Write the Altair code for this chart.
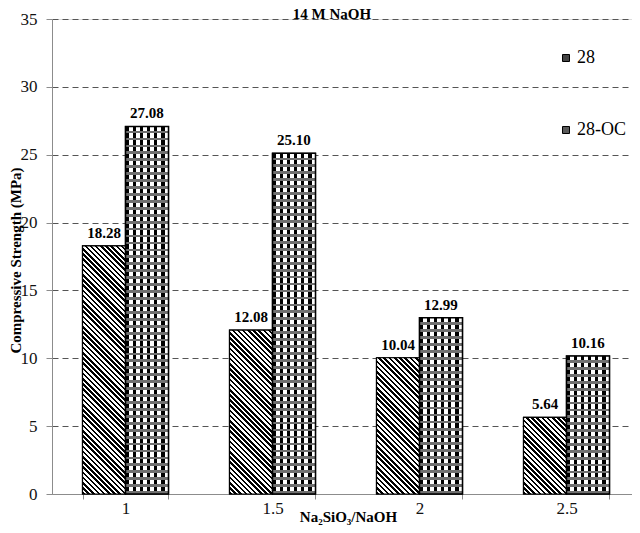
import altair as alt
import pandas as pd

# ---- data ----
ratios = ["1", "1.5", "2", "2.5"]
strength_28 = [18.28, 12.08, 10.04, 5.64]
strength_28oc = [27.08, 25.10, 12.99, 10.16]
series = ["28", "28-OC"]
y_ticks = [0, 5, 10, 15, 20, 25, 30, 35]

rows = []
for r, a, b in zip(ratios, strength_28, strength_28oc):
    rows.append({"ratio": r, "series": series[0], "value": a})
    rows.append({"ratio": r, "series": series[1], "value": b})
df = pd.DataFrame(rows)

# ---- layout / style ----
FONT = "Liberation Serif"
PLOT_W = 580
X_RANGE = 588
PLOT_H = 475
Y_MAX = 35
PAD_INNER = 0.415
EPS = 0.000001

step = X_RANGE / len(ratios)
bar_w = step * (1 - PAD_INNER) / 2


def px_h(v):
    return v / Y_MAX * PLOT_H


def stripes(n, c1, frac, c2):
    stops = []
    for i in range(n):
        a = round(i / n, 5)
        m = round((i + frac) / n, 5)
        b = round((i + 1) / n, 5)
        stops += [
            {"offset": a, "color": c1},
            {"offset": m, "color": c1},
            {"offset": m, "color": c2},
            {"offset": b, "color": c2},
        ]
    return stops


def diag_grad(v):
    w = bar_w
    h = px_h(v)
    k = (w + h) / (w * w + h * h)
    n = max(1, round((w + h) / 5.2))
    return {
        "gradient": "linear",
        "x1": EPS, "y1": 1,
        "x2": round(w * k, 6), "y2": round(1 - h * k, 6),
        "stops": stripes(n, "black", 0.5, "white"),
    }


def hband_grad(v):
    h = px_h(v)
    n = max(1, round(h / 7.0))
    return {
        "gradient": "linear",
        "x1": EPS, "y1": EPS, "x2": EPS, "y2": 1,
        "stops": stripes(n, "rgba(255,255,255,0)", 0.6, "#707070"),
    }


vgrad = {
    "gradient": "linear",
    "x1": EPS, "y1": EPS, "x2": 1, "y2": EPS,
    "stops": stripes(6, "black", 0.45, "white"),
}


def fill_by_ratio(vals, fn):
    conds = [{"test": f"datum.ratio === '{r}'", "value": fn(v)} for r, v in zip(ratios, vals)]
    return alt.FillValue(condition=conds, value="white")


x_enc = alt.X(
    "ratio:N", sort=ratios,
    scale=alt.Scale(range=[0, X_RANGE], paddingInner=PAD_INNER, paddingOuter=PAD_INNER / 2),
    axis=alt.Axis(
        title="Na₂SiO₃/NaOH", labelAngle=0, tickBand="extent", tickSize=5,
        tickColor="#8c8c8c", domainColor="#8c8c8c", labelFont=FONT, labelFontSize=17,
        labelColor="#111", labelPadding=1, titleFont=FONT, titleFontSize=15,
        titleFontWeight="bold", titleColor="#000", titleX=296, titleY=27,
        titleBaseline="alphabetic",
    ),
)
xo_enc = alt.XOffset("series:N", sort=series,
                     scale=alt.Scale(domain=series, paddingInner=0, paddingOuter=0))
y_enc = alt.Y(
    "value:Q", scale=alt.Scale(domain=[0, Y_MAX], nice=False),
    axis=alt.Axis(
        title="Compressive Strength (MPa)", values=y_ticks, grid=True, gridDash=[6, 4],
        gridColor="#555", gridWidth=1, tickSize=6, tickColor="#8c8c8c",
        domainColor="#8c8c8c", labelFont=FONT, labelFontSize=17, labelColor="#111",
        labelPadding=9, titleFont=FONT, titleFontSize=15, titleFontWeight="bold",
        titleColor="#000", titleX=-37, titleY=241, titleBaseline="middle",
    ),
)

base = alt.Chart(df)

legend_bars = base.mark_bar(stroke="black", strokeWidth=1.2).encode(
    x=x_enc, xOffset=xo_enc, y=y_enc,
    color=alt.Color(
        "series:N",
        scale=alt.Scale(domain=series, range=["#444444", "#5a5a5a"]),
        legend=alt.Legend(
            title=None, orient="none", legendX=505, legendY=30, direction="vertical",
            symbolType="square", symbolSize=49, symbolStrokeColor="black",
            symbolStrokeWidth=1, labelFont=FONT, labelFontSize=18, labelColor="#000",
            rowPadding=54, labelOffset=2, padding=0,
        ),
    ),
)

hatch_28 = base.transform_filter(f"datum.series === '{series[0]}'").mark_bar(
    stroke="black", strokeWidth=1.2
).encode(x=x_enc, xOffset=xo_enc, y=y_enc, fill=fill_by_ratio(strength_28, diag_grad))

oc_cols = base.transform_filter(f"datum.series === '{series[1]}'").mark_bar(
    fill=vgrad, strokeWidth=0
).encode(x=x_enc, xOffset=xo_enc, y=y_enc)

oc_bands = base.transform_filter(f"datum.series === '{series[1]}'").mark_bar(
    stroke="black", strokeWidth=1.5
).encode(x=x_enc, xOffset=xo_enc, y=y_enc, fill=fill_by_ratio(strength_28oc, hband_grad))

labels = base.mark_text(
    font=FONT, fontSize=15, fontWeight="bold", color="#000", baseline="bottom", dy=-5
).encode(x=x_enc, xOffset=xo_enc, y=y_enc, text=alt.Text("value:Q", format=".2f"))

chart = alt.layer(legend_bars, hatch_28, oc_cols, oc_bands, labels).properties(
    width=PLOT_W, height=PLOT_H,
    autosize="none",
    padding={"left": 44, "top": 11, "right": 0, "bottom": 31},
    title=alt.Title("14 M NaOH", font=FONT, fontSize=15, fontWeight="bold", color="#000",
                    anchor="middle", dx=-10, dy=23, offset=-1, baseline="alphabetic"),
).configure_view(stroke=None).configure(background="white")

chart.save("out.html", embed_options={"renderer": "svg", "actions": False})
